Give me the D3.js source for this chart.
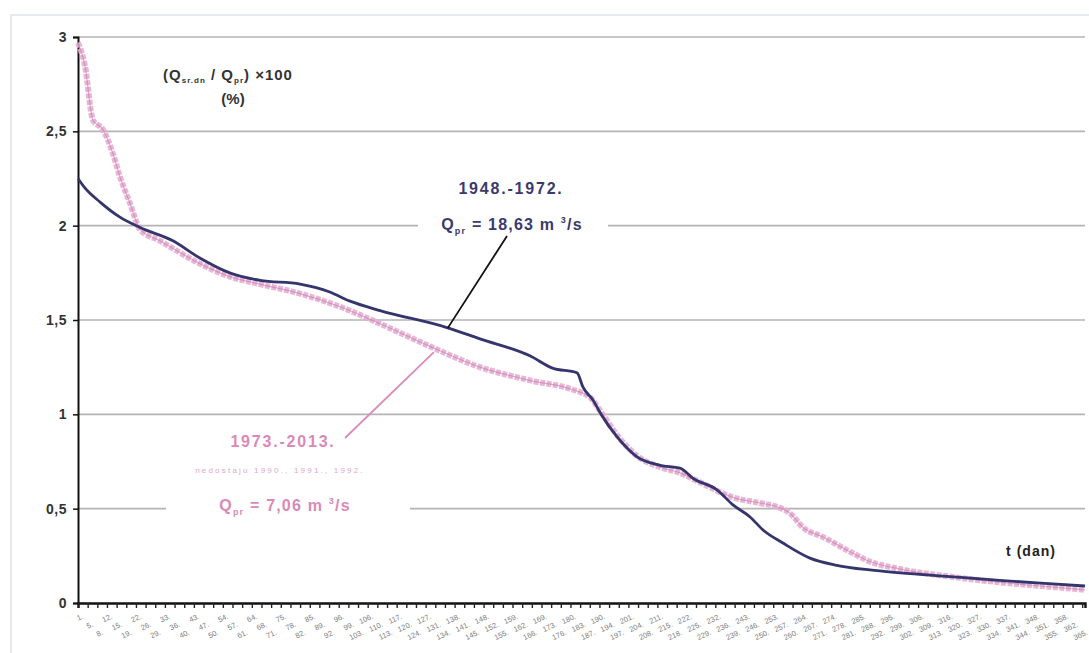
<!DOCTYPE html>
<html>
<head>
<meta charset="utf-8">
<script src="https://cdn.jsdelivr.net/npm/d3@7"></script>
<style>
  body { margin: 0; background: #fff; }
  svg { font-family: "Liberation Sans", Arial, sans-serif; }
</style>
</head>
<body>
<svg id="chart" width="1089" height="653"></svg>
<script>
// duration curve, day of year -> (Q / Qpr) * 100
const days1 = [0, 2.5, 8, 15.2, 22.5, 34.4, 44, 55, 66, 80.5, 91, 98.6, 109.5, 133.7, 145.7, 163.8, 172, 180.9, 183, 186.7, 189.2, 195.4, 202.6, 211, 218.2, 223, 231.6, 237.4, 243.6, 248.3, 255.5, 265.3, 275, 287, 298, 316, 334, 349, 365]
const vals1 = [2.25, 2.2, 2.125, 2.045, 1.99, 1.92, 1.83, 1.75, 1.71, 1.69, 1.65, 1.6, 1.55, 1.46, 1.4, 1.31, 1.245, 1.22, 1.145, 1.075, 1.01, 0.88, 0.775, 0.73, 0.715, 0.66, 0.6, 0.52, 0.456, 0.387, 0.318, 0.238, 0.2, 0.175, 0.16, 0.14, 0.12, 0.105, 0.09]

const days2 = [0, 2.5, 5.4, 9, 12.7, 15.2, 18.8, 22.5, 29.7, 44, 55, 66, 80.5, 95, 109.5, 127.6, 145.7, 163.8, 179.4, 185.6, 189.2, 195.4, 202.6, 211, 218.2, 225.4, 237.4, 247.2, 253.4, 258, 262.8, 270, 278.8, 287, 298, 316, 334, 349, 365]
const vals2 = [2.97, 2.85, 2.56, 2.51, 2.38, 2.26, 2.12, 1.98, 1.92, 1.8, 1.73, 1.69, 1.64, 1.57, 1.48, 1.36, 1.25, 1.18, 1.13, 1.09, 1.02, 0.89, 0.78, 0.72, 0.69, 0.64, 0.56, 0.53, 0.51, 0.477, 0.4, 0.35, 0.28, 0.22, 0.18, 0.14, 0.11, 0.09, 0.07]

const yTicks = [0, 0.5, 1, 1.5, 2, 2.5, 3]
const xTicks = d3.range(0, 366, 3.5)

const svg = d3.select('#chart')
const plotLeft = 78, plotRight = 1085, plotTop = 37, plotBottom = 603

const x = d3.scaleLinear().domain([0, 365]).range([plotLeft, plotRight])
const y = d3.scaleLinear().domain([0, 3]).range([plotBottom, plotTop])

// outer frame
svg.append('rect')
  .attr('x', 11).attr('y', 15).attr('width', 1090).attr('height', 650)
  .attr('fill', 'none').attr('stroke', '#dfe5ec').attr('stroke-width', 1.5)

// grid
svg.append('g').selectAll('line')
  .data(yTicks.filter(d => d > 0))
  .join('line')
  .attr('x1', plotLeft).attr('x2', plotRight)
  .attr('y1', d => y(d)).attr('y2', d => y(d))
  .attr('stroke', '#b4b4b4').attr('stroke-width', 1.6)

// y axis
const yAxis = svg.append('g')
  .attr('transform', `translate(${plotLeft},0)`)
  .call(d3.axisLeft(y).tickValues(yTicks).tickSize(5)
    .tickFormat(d => String(d).replace('.', ',')))
yAxis.select('.domain').attr('stroke', '#111').attr('stroke-width', 2)
yAxis.selectAll('.tick line').attr('stroke', '#111').attr('stroke-width', 1.5)
yAxis.selectAll('.tick text')
  .attr('font-size', 14).attr('font-weight', 'bold').attr('fill', '#333').attr('x', -11)
  .attr('letter-spacing', 0.5)

// x axis with dense ticks
const xAxis = svg.append('g')
  .attr('transform', `translate(0,${plotBottom})`)
  .call(d3.axisBottom(x).tickValues(xTicks).tickSize(5).tickFormat(''))
xAxis.select('.domain').attr('stroke', '#111').attr('stroke-width', 2.4)
xAxis.selectAll('.tick line').attr('stroke', '#222').attr('stroke-width', 1.4)

// tiny staggered rotated day labels
svg.append('g').selectAll('text')
  .data(xTicks)
  .join('text')
  .attr('transform', (d, i) => `translate(${x(d) + 6},${plotBottom + 15 + (i % 3) * 8}) rotate(-25)`)
  .attr('font-size', 7.5).attr('fill', '#7c7c7c').attr('text-anchor', 'end')
  .text(d => `${Math.round(d) + 1}.`)

// curves
const line = d3.line().x(d => x(d[0])).y(d => y(d[1])).curve(d3.curveMonotoneX)

svg.append('path')
  .datum(d3.zip(days2, vals2))
  .attr('d', line)
  .attr('fill', 'none').attr('stroke', '#e6aed2').attr('stroke-width', 6)
  .attr('stroke-dasharray', '5,1.5').attr('opacity', 0.9)
svg.append('path')
  .datum(d3.zip(days2, vals2))
  .attr('d', line)
  .attr('fill', 'none').attr('stroke', '#c978ae').attr('stroke-width', 1.2).attr('opacity', 0.6)

svg.append('path')
  .datum(d3.zip(days1, vals1))
  .attr('d', line)
  .attr('fill', 'none').attr('stroke', '#35356e').attr('stroke-width', 2.8)

// axis title
const t1 = svg.append('text').attr('x', 228).attr('y', 80)
  .attr('text-anchor', 'middle').attr('font-size', 15).attr('font-weight', 'bold').attr('fill', '#333')
  .attr('letter-spacing', 1)
t1.append('tspan').text('(Q')
t1.append('tspan').attr('font-size', 8).attr('dy', 3).text('sr.dn')
t1.append('tspan').attr('dy', -3).text(' / Q')
t1.append('tspan').attr('font-size', 8).attr('dy', 3).text('pr')
t1.append('tspan').attr('dy', -3).text(') ×100')
svg.append('text').attr('x', 233).attr('y', 104)
  .attr('text-anchor', 'middle').attr('font-size', 15).attr('font-weight', 'bold').attr('fill', '#333')
  .text('(%)')

// 1948-1972 label
svg.append('rect').attr('x', 418).attr('y', 212).attr('width', 190).attr('height', 24).attr('fill', '#fff')
svg.append('text').attr('x', 511).attr('y', 194)
  .attr('text-anchor', 'middle').attr('font-size', 16).attr('font-weight', 'bold').attr('fill', '#3a3a6e')
  .attr('letter-spacing', 1.8)
  .text('1948.-1972.')
const t2 = svg.append('text').attr('x', 512).attr('y', 230)
  .attr('text-anchor', 'middle').attr('font-size', 16).attr('font-weight', 'bold').attr('fill', '#3a3a6e')
  .attr('letter-spacing', 1.2)
t2.append('tspan').text('Q')
t2.append('tspan').attr('font-size', 9).attr('dy', 4).text('pr')
t2.append('tspan').attr('dy', -4).text(' = 18,63 m ')
t2.append('tspan').attr('font-size', 9).attr('dy', -7).text('3')
t2.append('tspan').attr('dy', 7).text('/s')
svg.append('line')
  .attr('x1', 507).attr('y1', 236).attr('x2', x(134)).attr('y2', y(1.457))
  .attr('stroke', '#111').attr('stroke-width', 1.8)

// 1973-2013 label
svg.append('rect').attr('x', 166).attr('y', 494).attr('width', 244).attr('height', 24).attr('fill', '#fff')
svg.append('text').attr('x', 283).attr('y', 447)
  .attr('text-anchor', 'middle').attr('font-size', 16).attr('font-weight', 'bold').attr('fill', '#d98ab8')
  .attr('letter-spacing', 1.8)
  .text('1973.-2013.')
svg.append('text').attr('x', 280).attr('y', 473)
  .attr('text-anchor', 'middle').attr('font-size', 8).attr('fill', '#e2a6cc')
  .attr('letter-spacing', 2.2)
  .text('nedostaju 1990., 1991., 1992.')
const t3 = svg.append('text').attr('x', 285).attr('y', 511)
  .attr('text-anchor', 'middle').attr('font-size', 16).attr('font-weight', 'bold').attr('fill', '#d98ab8')
  .attr('letter-spacing', 1.2)
t3.append('tspan').text('Q')
t3.append('tspan').attr('font-size', 9).attr('dy', 4).text('pr')
t3.append('tspan').attr('dy', -4).text(' = 7,06 m ')
t3.append('tspan').attr('font-size', 9).attr('dy', -7).text('3')
t3.append('tspan').attr('dy', 7).text('/s')
svg.append('line')
  .attr('x1', 345).attr('y1', 438).attr('x2', x(129)).attr('y2', y(1.33))
  .attr('stroke', '#d98cbd').attr('stroke-width', 1.8)

svg.append('text').attr('x', 1031).attr('y', 556)
  .attr('text-anchor', 'middle').attr('font-size', 14).attr('font-weight', 'bold').attr('fill', '#222')
  .attr('letter-spacing', 1)
  .text('t (dan)')
</script>
</body>
</html>
